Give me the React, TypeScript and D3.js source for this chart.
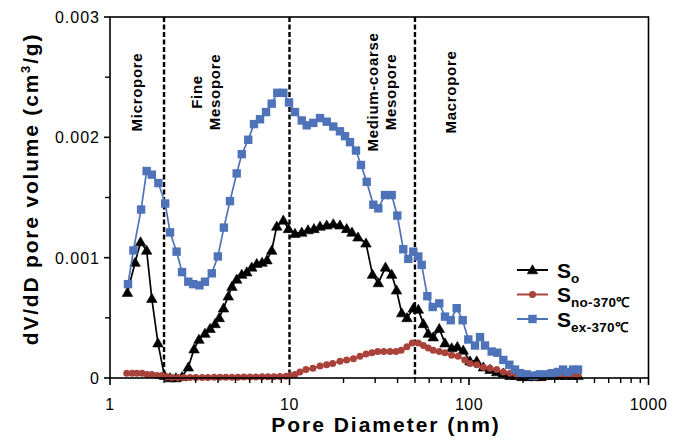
import React from "react";
import * as d3 from "d3";

const soData: [number, number][] = [
  [1.25, 0.00071], [1.38, 0.00096], [1.48, 0.00113], [1.6, 0.00106], [1.71, 0.00066], [1.85, 0.00029],
  [2.01, 0.00002], [2.16, 0], [2.33, 0], [2.52, 0.00001], [2.73, 0.00009], [2.94, 0.00024], [3.13, 0.00032],
  [3.38, 0.00037], [3.61, 0.00041], [3.85, 0.00045], [4.06, 0.0005], [4.29, 0.00058], [4.56, 0.00068],
  [4.78, 0.00076], [5.08, 0.00082], [5.42, 0.00086], [5.78, 0.00088], [6.16, 0.00092], [6.57, 0.00095],
  [7.03, 0.00096], [7.49, 0.00098], [7.96, 0.00106], [8.49, 0.00126], [9.24, 0.00131], [9.87, 0.00124],
  [10.73, 0.0012], [11.7, 0.00121], [12.68, 0.00123], [13.69, 0.00124], [14.79, 0.00126], [16.12, 0.00127],
  [17.54, 0.00128], [19.11, 0.00127], [20.83, 0.00124], [22.29, 0.00121], [24.07, 0.00117], [26.67, 0.00112],
  [29.0, 0.00086], [31.24, 0.00079], [34.26, 0.00092], [37.1, 0.00086], [39.46, 0.00073], [42.18, 0.00054],
  [45.14, 0.0005], [48.95, 0.00058], [52.19, 0.00057], [55.7, 0.00045], [59.3, 0.00037], [63.2, 0.00034],
  [68.3, 0.00041], [73.5, 0.00029], [80.1, 0.00025], [86.1, 0.00026], [92.9, 0.00023], [101.3, 0.00014],
  [110.4, 0.00014], [120.2, 0.00009], [130.9, 0.00007], [142.7, 0.00005], [155.3, 0.00004], [169.2, 0.00002],
  [182, 0.00002], [197, 0.00001], [212, 0.00001], [233, 0.00001], [252, 0.00001], [272, 0.00002],
  [294, 0.00002], [321, 0.00002], [347, 0.00002], [375, 0.00002], [405, 0.00002],
];

const snoData: [number, number][] = [
  [1.24, 0.00004], [1.33, 0.00004], [1.41, 0.00004], [1.51, 0.00004], [1.61, 0.00003], [1.71, 0.00003],
  [1.83, 0.00002], [1.95, 0.00002], [2.08, 0.00001], [2.21, 0.000005], [2.39, 0.000005], [2.58, 0.000005],
  [2.79, 0.000005], [3.01, 0.000005], [3.26, 0.000005], [3.51, 0.000005], [3.8, 0.000006], [4.1, 0.000006],
  [4.42, 0.000006], [4.78, 0.000007], [5.16, 0.000007], [5.57, 0.000008], [6.02, 0.000008], [6.5, 0.000009],
  [7.03, 0.00001], [7.59, 0.00001], [8.19, 0.00001], [8.85, 0.000012], [9.56, 0.000015], [10.06, 0.00002],
  [10.73, 0.00003], [11.43, 0.00005], [12.35, 0.00007], [13.5, 0.00008], [14.8, 0.0001], [16.1, 0.00011],
  [17.4, 0.00012], [19.1, 0.00014], [20.8, 0.00015], [22.7, 0.00016], [24.7, 0.00018], [26.7, 0.0002],
  [28.8, 0.00021], [31.0, 0.00022], [33.5, 0.00022], [36.3, 0.00022], [39.2, 0.00022], [41.9, 0.00023],
  [45.1, 0.00026], [48.3, 0.00029], [52.2, 0.00029], [55.7, 0.00027], [59.3, 0.00025], [63.2, 0.00023],
  [68.3, 0.00022], [73.5, 0.00021], [80.1, 0.00019], [87.0, 0.00018], [94.8, 0.00015], [101.3, 0.00012],
  [110.4, 0.00011], [120.2, 0.00009], [130.9, 0.00008], [142.7, 0.00007], [155.3, 0.00005], [169.2, 0.00004],
  [184.4, 0.00002], [200, 0.00002], [218, 0.00002], [237, 0.00001], [255, 0.00002], [276, 0.00002],
  [298, 0.00002], [322, 0.00003], [347, 0.00002], [375, 0.00002], [405, 0.00002],
];

const sexData: [number, number][] = [
  [1.26, 0.00078], [1.35, 0.00106], [1.49, 0.0014], [1.6, 0.00172], [1.71, 0.00169], [1.86, 0.00162],
  [2.03, 0.00145], [2.16, 0.00121], [2.35, 0.00105], [2.52, 0.00088], [2.73, 0.0008], [2.91, 0.00078],
  [3.15, 0.00077], [3.38, 0.0008], [3.69, 0.00087], [3.99, 0.00101], [4.31, 0.00125], [4.66, 0.00147],
  [5.08, 0.0017], [5.42, 0.00186], [5.89, 0.00198], [6.34, 0.00211], [6.85, 0.00215], [7.4, 0.00221],
  [7.96, 0.00228], [8.55, 0.00237], [9.24, 0.00237], [9.94, 0.00229], [10.73, 0.00221], [11.7, 0.00214],
  [12.47, 0.0021], [13.57, 0.00212], [14.79, 0.00216], [16.12, 0.00213], [17.54, 0.00209], [19.11, 0.00205],
  [20.38, 0.00201], [21.73, 0.00196], [23.47, 0.00189], [25.02, 0.00177], [26.92, 0.00163], [29.31, 0.00144],
  [31.24, 0.00141], [34.04, 0.00152], [37.1, 0.00152], [39.86, 0.00135], [43.05, 0.00107], [45.91, 0.00099],
  [48.95, 0.00105], [52.19, 0.00101], [54.5, 0.00094], [58.6, 0.00068], [62.8, 0.00059], [68.3, 0.00062],
  [73.5, 0.00051], [79.1, 0.00048], [85.4, 0.00058], [92.2, 0.00048], [99.1, 0.00032], [108.0, 0.00027],
  [115.2, 0.00034], [122.8, 0.00027], [133.8, 0.00022], [143.8, 0.00021], [155.3, 0.00015], [167.7, 0.00011],
  [180.4, 0.00007], [192.4, 0.00004], [209.7, 0.00003], [227, 0.00002], [248, 0.00003], [269, 0.00003],
  [290, 0.00004], [313, 0.00005], [334, 0.00007], [356, 0.00005], [380, 0.00007], [405, 0.00007],
];

const xTickValues = [1, 10, 100, 1000];
const xTickLabels = ["1", "10", "100", "1000"];
const yTickValues = [0, 0.001, 0.002, 0.003];
const yTickLabels = ["0", "0.001", "0.002", "0.003"];
const yMinorTicks = [0.0005, 0.0015, 0.0025];
const boundaries = [2, 10, 50];
const regionLabels: { x: number; lines: string[] }[] = [
  { x: 1.4, lines: ["Micropore"] },
  { x: 3.38, lines: ["Fine", "Mesopore"] },
  { x: 32.3, lines: ["Medium-coarse", "Mesopore"] },
  { x: 78.4, lines: ["Macropore"] },
];

const FONT = "Arial, 'Liberation Sans', Helvetica, sans-serif";
const BLACK = "#000000";
const RED = "#a8423b";
const BLUE = "#4f73b9";

export default function App() {
  const W = 683;
  const H = 441;
  const left = 110;
  const right = 648.5;
  const top = 17;
  const bottom = 378;

  const x = d3.scaleLog().domain([1, 1000]).range([left, right]);
  const y = d3.scaleLinear().domain([0, 0.003]).range([bottom, top]);

  const line = d3
    .line<[number, number]>()
    .x((d) => x(d[0]))
    .y((d) => y(d[1]));

  const minorX: number[] = [];
  for (let dec = 1; dec < 1000; dec *= 10) {
    for (let k = 2; k <= 9; k++) minorX.push(dec * k);
  }

  const tri = d3.symbol().type(d3.symbolTriangle).size(48)() as string;

  const legendRows = [
    { label: "o", color: BLACK, kind: "tri" },
    { label: "no-370℃", color: RED, kind: "circle" },
    { label: "ex-370℃", color: BLUE, kind: "square" },
  ];

  const marker = (kind: string, color: string, cx: number, cy: number, key: any) => {
    if (kind === "tri")
      return <path key={key} d={tri} transform={`translate(${cx},${cy + 0.8})`} fill={color} stroke={color} strokeWidth={0.6} />;
    if (kind === "circle") return <circle key={key} cx={cx} cy={cy} r={3.5} fill={color} />;
    return <rect key={key} x={cx - 4.2} y={cy - 4.2} width={8.4} height={8.4} fill={color} />;
  };

  return (
    <svg width={W} height={H} style={{ position: "absolute", left: 0, top: 0, background: "#fff" }} fontFamily={FONT}>
      <rect x={0} y={0} width={W} height={H} fill="#fff" />

      {/* region labels */}
      {regionLabels.map((r, i) => {
        const cx = x(r.x);
        const n = r.lines.length;
        return r.lines.map((ln, j) => {
          const bx = cx + (j - (n - 1) / 2) * 18 + 6;
          return (
            <text
              key={`r${i}-${j}`}
              transform={`translate(${bx},${92}) rotate(-90)`}
              textAnchor="middle"
              fontSize={15}
              fontWeight="bold"
              letterSpacing={0.7}
              fill="#000"
            >
              {ln}
            </text>
          );
        });
      })}

      {/* boundaries */}
      {boundaries.map((b) => (
        <line key={`b${b}`} x1={x(b)} x2={x(b)} y1={top} y2={bottom} stroke="#000" strokeWidth={2.4} strokeDasharray="5,2.5" />
      ))}

      {/* series */}
      <path d={line(soData) as string} fill="none" stroke={BLACK} strokeWidth={1.7} />
      {soData.map((d, i) => marker("tri", BLACK, x(d[0]), y(d[1]), `so${i}`))}
      <path d={line(snoData) as string} fill="none" stroke={RED} strokeWidth={1.7} />
      {snoData.map((d, i) => marker("circle", RED, x(d[0]), y(d[1]), `sno${i}`))}
      <path d={line(sexData) as string} fill="none" stroke={BLUE} strokeWidth={1.7} />
      {sexData.map((d, i) => marker("square", BLUE, x(d[0]), y(d[1]), `sex${i}`))}

      {/* frame */}
      <rect x={left} y={top} width={right - left} height={bottom - top} fill="none" stroke="#000" strokeWidth={1.6} />

      {/* x ticks */}
      {xTickValues.map((v, i) => (
        <g key={`xt${i}`}>
          <line x1={x(v)} x2={x(v)} y1={bottom} y2={bottom + 7} stroke="#000" strokeWidth={1.6} />
          <text x={x(v)} y={410} textAnchor="middle" fontSize={16} fill="#000" letterSpacing={0.5}>
            {xTickLabels[i]}
          </text>
        </g>
      ))}
      {minorX.map((v) => (
        <line key={`xm${v}`} x1={x(v)} x2={x(v)} y1={bottom} y2={bottom + 5} stroke="#000" strokeWidth={1.4} />
      ))}

      {/* y ticks */}
      {yTickValues.map((v, i) => (
        <g key={`yt${i}`}>
          <line x1={left - 6} x2={left} y1={y(v)} y2={y(v)} stroke="#000" strokeWidth={1.6} />
          <text x={100} y={y(v) + 6} textAnchor="end" fontSize={16} fill="#000" letterSpacing={1}>
            {yTickLabels[i]}
          </text>
        </g>
      ))}
      {yMinorTicks.map((v) => (
        <line key={`ym${v}`} x1={left - 5} x2={left} y1={y(v)} y2={y(v)} stroke="#000" strokeWidth={1.4} />
      ))}

      {/* axis titles */}
      <text x={386} y={432} textAnchor="middle" fontSize={21} fontWeight="bold" letterSpacing={2} fill="#000">
        Pore Diameter (nm)
      </text>
      <text transform="translate(38,189) rotate(-90)" textAnchor="middle" fontSize={21} fontWeight="bold" letterSpacing={1.8} fill="#000">
        dV/dD pore volume (cm<tspan dy={-8} fontSize={13}>3</tspan>
        <tspan dy={8}>/g)</tspan>
      </text>

      {/* legend */}
      {legendRows.map((r, i) => {
        const ly = 270 + i * 24.5;
        return (
          <g key={`lg${i}`}>
            <line x1={517} x2={548} y1={ly} y2={ly} stroke={r.color} strokeWidth={2} />
            {marker(r.kind, r.color, 532.5, ly, `lm${i}`)}
            <text x={557} y={ly + 7.5} fontSize={21} fontWeight="bold" fill="#000">
              S
              <tspan dy={5} fontSize={13.5} letterSpacing={0.3}>
                {r.label}
              </tspan>
            </text>
          </g>
        );
      })}
    </svg>
  );
}
